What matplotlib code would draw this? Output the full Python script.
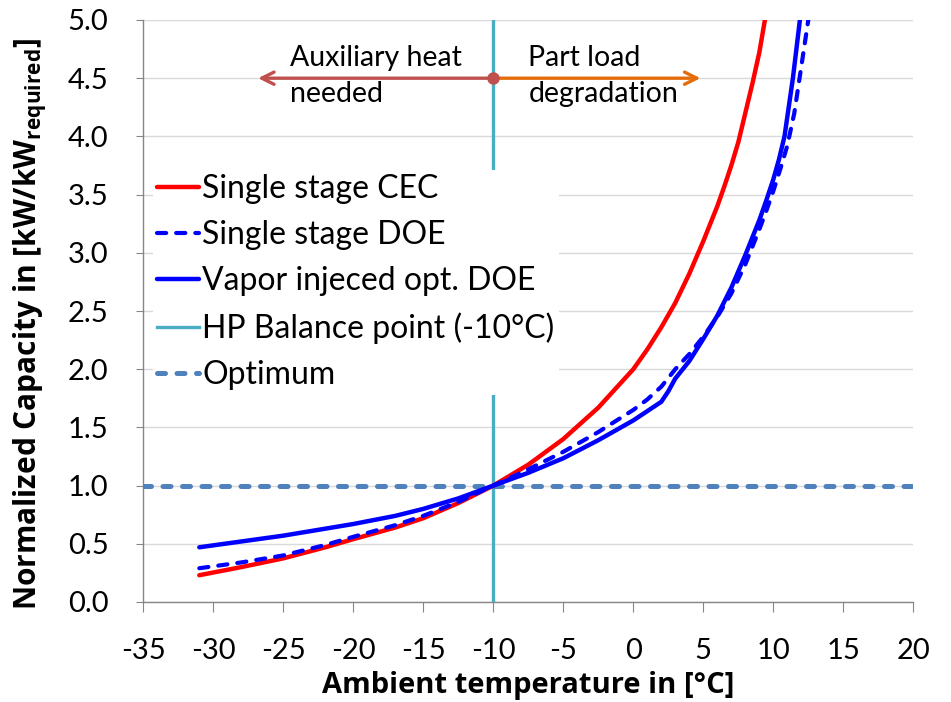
import matplotlib
matplotlib.use("Agg")
import matplotlib.pyplot as plt

plt.rcParams['font.family'] = ['Lato', 'DejaVu Sans']
plt.rcParams['mathtext.fontset'] = 'custom'
plt.rcParams['mathtext.rm'] = 'Open Sans:bold'
plt.rcParams['mathtext.default'] = 'rm'

# ---- data ----
cec_x = [-31, -28, -25, -22, -20, -17, -15, -12.5, -10, -7.5, -5, -2.5, 0, 1, 2, 3, 4, 5, 5.5, 6, 6.5, 7, 7.5, 8, 8.5, 9, 9.4]
cec_y = [0.23, 0.30, 0.375, 0.47, 0.54, 0.64, 0.72, 0.85, 1.0, 1.18, 1.40, 1.67, 2.0, 2.17, 2.36, 2.57, 2.82, 3.1, 3.25, 3.4, 3.57, 3.75, 3.95, 4.2, 4.45, 4.72, 5.0]

doe_x = [-31, -28, -25, -22, -20, -17, -15, -12.5, -10, -7.5, -5, -2.5, 0, 1, 2, 3, 4, 5, 6, 7, 8, 9, 9.5, 10, 10.5, 11, 11.5, 12, 12.5]
doe_y = [0.29, 0.34, 0.40, 0.49, 0.56, 0.66, 0.74, 0.86, 1.0, 1.14, 1.29, 1.46, 1.65, 1.74, 1.85, 2.0, 2.13, 2.28, 2.45, 2.65, 2.9, 3.2, 3.36, 3.53, 3.72, 3.92, 4.2, 4.6, 5.0]

vi_x = [-31, -28, -25, -22, -20, -17, -15, -12.5, -10, -7.5, -5, -2.5, 0, 1, 2, 2.5, 3, 4, 5, 6, 7, 8, 9, 9.5, 10, 10.4, 10.8, 11.1, 11.4, 11.65, 11.9]
vi_y = [0.47, 0.52, 0.57, 0.63, 0.67, 0.74, 0.80, 0.89, 1.0, 1.11, 1.235, 1.39, 1.56, 1.64, 1.72, 1.81, 1.92, 2.07, 2.26, 2.46, 2.70, 2.98, 3.28, 3.45, 3.63, 3.8, 4.0, 4.25, 4.5, 4.75, 5.0]

balance_x = [-10, -10]
balance_y = [0.0, 5.0]
optimum_x = [-35, 20]
optimum_y = [1.0, 1.0]

arrow_y = 4.5
arrow_left_end = -26.8
arrow_right_end = 4.8

xticks = list(range(-35, 21, 5))
yticks = [0.0, 0.5, 1.0, 1.5, 2.0, 2.5, 3.0, 3.5, 4.0, 4.5, 5.0]

labels = ['Single stage CEC', 'Single stage DOE', 'Vapor injeced opt. DOE',
          'HP Balance point (-10°C)', 'Optimum']

# ---- figure ----
fig = plt.figure(figsize=(9.51, 7.02), dpi=100)
ax = fig.add_axes([143.3 / 951, 1 - 602 / 702, 770 / 951, 582 / 702])

c_red = '#FF0000'
c_blue = '#0000FF'
c_bal = '#4BACC6'
c_opt = '#4F81BD'

l_cec, = ax.plot(cec_x, cec_y, color=c_red, lw=3.2, solid_capstyle='round',
                 solid_joinstyle='round', zorder=4)
l_doe, = ax.plot(doe_x, doe_y, color=c_blue, lw=3.0, dashes=(2.2, 2.4),
                 dash_capstyle='round', zorder=5)
l_vi, = ax.plot(vi_x, vi_y, color=c_blue, lw=3.2, solid_capstyle='round',
                solid_joinstyle='round', zorder=4)
l_bal, = ax.plot(balance_x, balance_y, color=c_bal, lw=2.4, zorder=3)
l_opt, = ax.plot(optimum_x, optimum_y, color=c_opt, lw=3.6, dashes=(1.6, 2.3),
                 dash_capstyle='round', zorder=3)

# annotations
ax.annotate('', xy=(arrow_left_end, arrow_y), xytext=(-10, arrow_y),
            arrowprops=dict(arrowstyle='->', color='#C0504D', lw=2.4,
                            mutation_scale=22, shrinkA=0, shrinkB=0), zorder=6)
ax.annotate('', xy=(arrow_right_end, arrow_y), xytext=(-10, arrow_y),
            arrowprops=dict(arrowstyle='->', color='#E46C0A', lw=2.4,
                            mutation_scale=22, shrinkA=0, shrinkB=0), zorder=6)
ax.plot([-10], [arrow_y], 'o', color='#C0504D', ms=8, zorder=7)

ax.text(-24.5, arrow_y + 0.02, 'Auxiliary heat\nneeded', fontsize=20.5, ha='left', va='center',
        linespacing=1.45, zorder=8)
ax.text(-7.5, arrow_y + 0.02, 'Part load\ndegradation', fontsize=20.5, ha='left', va='center',
        linespacing=1.45, zorder=8)

# axes styling
ax.set_xlim(-35, 20)
ax.set_ylim(0, 5)
ax.set_xticks(xticks)
ax.set_yticks(yticks)
ax.set_xticklabels([str(t) for t in xticks])
ax.set_yticklabels([f'{t:.1f}' for t in yticks])
ax.grid(axis='y', color='#D9D9D9', lw=1)
ax.set_axisbelow(True)
for s in ['top', 'right']:
    ax.spines[s].set_visible(False)
for s in ['left', 'bottom']:
    ax.spines[s].set_color('#868686')
    ax.spines[s].set_linewidth(1)
ax.tick_params(axis='x', direction='out', length=7, color='#868686', labelsize=21, pad=19)
ax.tick_params(axis='y', direction='out', length=5, color='#868686', labelsize=21, pad=20)

ax.set_xlabel('Ambient temperature in [°C]', fontsize=21, fontweight='bold',
              family='Open Sans', labelpad=5)
ax.set_ylabel(r'Normalized Capacity in [kW/kW$_{required}$]', fontsize=21.5,
              fontweight='bold', family='Open Sans')
ax.yaxis.set_label_coords(-0.123, 0.477)

leg = ax.legend([l_cec, l_doe, l_vi, l_bal, l_opt], labels, loc='upper left',
                bbox_to_anchor=(0.012, 0.743), frameon=True, framealpha=1,
                edgecolor='none', facecolor='white', fontsize=23, handlelength=1.3,
                handletextpad=0.1, labelspacing=0.5, borderpad=0.15, borderaxespad=0)
leg.set_zorder(5.5)

fig.savefig('out.png', dpi=100)
